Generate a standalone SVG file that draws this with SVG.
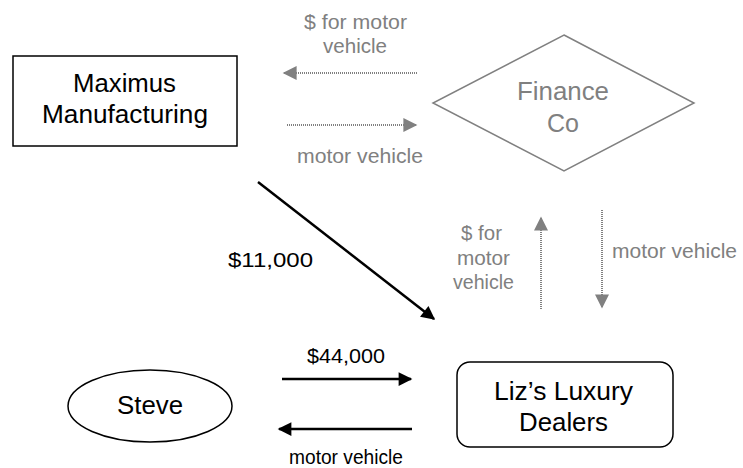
<svg xmlns="http://www.w3.org/2000/svg" width="743" height="468" viewBox="0 0 743 468">
<defs>
<style>
text{font-family:"Liberation Sans",Arial,sans-serif}
.big{font-size:25px;text-anchor:middle}
.lbl{font-size:20px}
.mid{text-anchor:middle}
.gray{fill:#808080}
.blk{fill:#000}
.gline{stroke:#808080;stroke-width:2;stroke-dasharray:1 1;fill:none}
.bline{stroke:#000;stroke-width:2.5;fill:none}
</style>
<marker id="ga" viewBox="0 0 10 10" refX="9" refY="5" markerWidth="8" markerHeight="7" markerUnits="strokeWidth" orient="auto"><path d="M0,0 L10,5 L0,10 z" fill="#808080"/></marker>
<marker id="ba" viewBox="0 0 10 10" refX="9" refY="5" markerWidth="6.5" markerHeight="5.5" markerUnits="strokeWidth" orient="auto"><path d="M0,0 L10,5 L0,10 z" fill="#000"/></marker>
</defs>
<rect width="743" height="468" fill="#fff"/>
<g id="maximus">
<rect x="13" y="56" width="224" height="90" fill="#fff" stroke="#000" stroke-width="1.5"/>
<text class="big blk" x="124.5" y="92" textLength="103" lengthAdjust="spacingAndGlyphs">Maximus</text>
<text class="big blk" x="125" y="123" textLength="166" lengthAdjust="spacingAndGlyphs">Manufacturing</text>
</g>
<g id="finance">
<polygon points="564,35 694,103 564,171 433,103" fill="#fff" stroke="#808080" stroke-width="1.5"/>
<text class="big gray" x="563" y="100" textLength="92" lengthAdjust="spacingAndGlyphs">Finance</text>
<text class="big gray" x="563" y="132" textLength="32" lengthAdjust="spacingAndGlyphs">Co</text>
</g>
<g id="steve">
<ellipse cx="150" cy="406" rx="82" ry="36" fill="#fff" stroke="#000" stroke-width="1.5"/>
<text class="big blk" x="150" y="414" textLength="66" lengthAdjust="spacingAndGlyphs">Steve</text>
</g>
<g id="liz">
<rect x="457" y="362" width="216" height="85" rx="13" ry="13" fill="#fff" stroke="#000" stroke-width="1.5"/>
<text class="big blk" x="563.5" y="400" textLength="139" lengthAdjust="spacingAndGlyphs">Liz’s Luxury</text>
<text class="big blk" x="563.5" y="431" textLength="89" lengthAdjust="spacingAndGlyphs">Dealers</text>
</g>
<g id="connectors">
<line class="gline" x1="417" y1="73" x2="284" y2="73" marker-end="url(#ga)"/>
<line class="gline" x1="287" y1="125" x2="416" y2="125" marker-end="url(#ga)"/>
<line class="gline" x1="541" y1="309" x2="541" y2="218" marker-end="url(#ga)"/>
<line class="gline" x1="602" y1="210" x2="602" y2="307" marker-end="url(#ga)"/>
<line class="bline" x1="258" y1="182" x2="434" y2="319" marker-end="url(#ba)"/>
<line class="bline" x1="282" y1="379" x2="411" y2="379" marker-end="url(#ba)"/>
<line class="bline" x1="412" y1="429" x2="279" y2="429" marker-end="url(#ba)"/>
<text class="lbl gray mid" x="355.5" y="29" textLength="103" lengthAdjust="spacingAndGlyphs">$ for motor</text>
<text class="lbl gray mid" x="355" y="53" textLength="64" lengthAdjust="spacingAndGlyphs">vehicle</text>
<text class="lbl gray mid" x="360" y="163" textLength="126" lengthAdjust="spacingAndGlyphs">motor vehicle</text>
<text class="lbl gray mid" x="481.5" y="240" textLength="41" lengthAdjust="spacingAndGlyphs">$ for</text>
<text class="lbl gray mid" x="483.5" y="265" textLength="53" lengthAdjust="spacingAndGlyphs">motor</text>
<text class="lbl gray mid" x="483.5" y="289" textLength="61" lengthAdjust="spacingAndGlyphs">vehicle</text>
<text class="lbl gray" x="612" y="258" textLength="125" lengthAdjust="spacingAndGlyphs">motor vehicle</text>
<text class="lbl blk" x="228" y="267" textLength="85" lengthAdjust="spacingAndGlyphs">$11,000</text>
<text class="lbl blk mid" x="346" y="363" textLength="78" lengthAdjust="spacingAndGlyphs">$44,000</text>
<text class="lbl blk mid" x="346" y="464" textLength="114" lengthAdjust="spacingAndGlyphs">motor vehicle</text>
</g>
</svg>
